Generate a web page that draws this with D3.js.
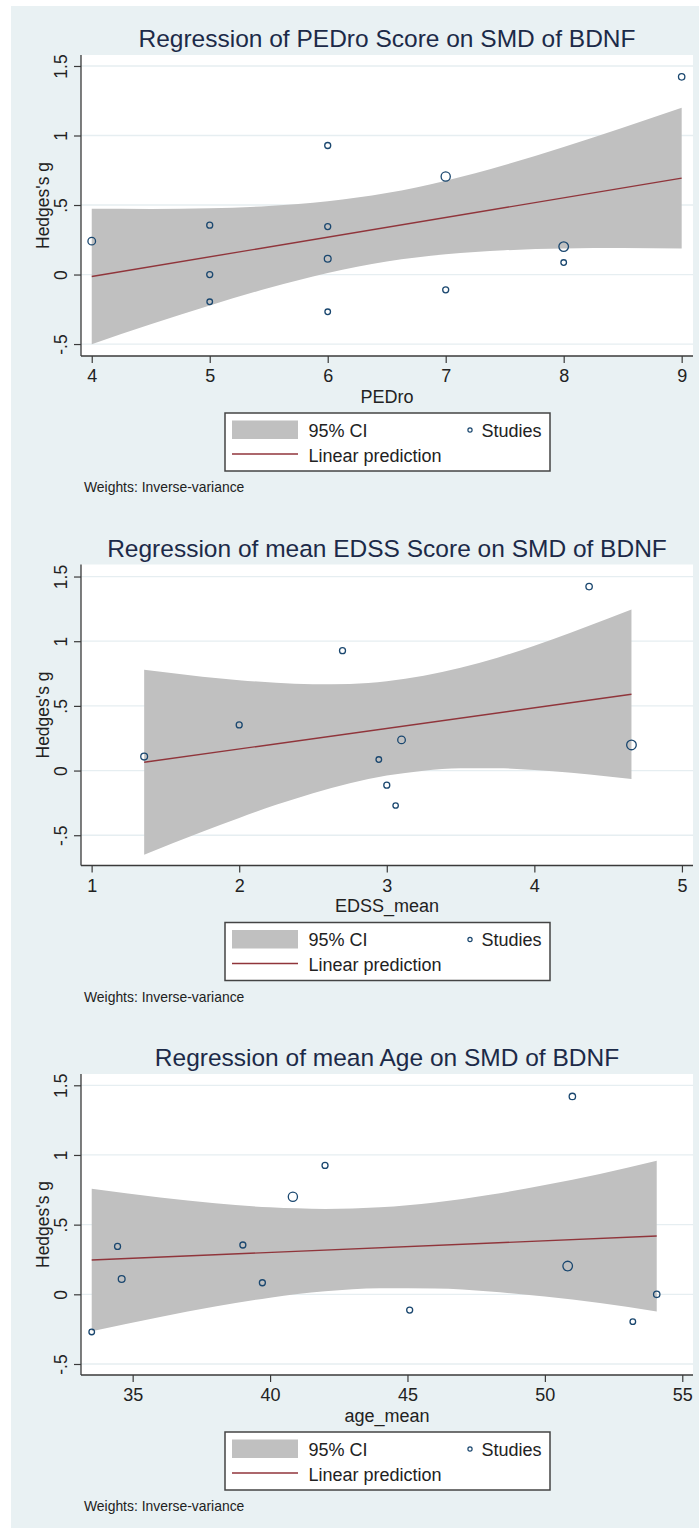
<!DOCTYPE html>
<html>
<head>
<meta charset="utf-8">
<script src="https://cdn.jsdelivr.net/npm/d3@7"></script>
<style>
  html, body { margin: 0; padding: 0; background: #ffffff; }
  svg { display: block; }
  text { font-family: "Liberation Sans", Arial, sans-serif; }
</style>
</head>
<body>
<script>
// ---------------- DATA ----------------
const yTicks = [-0.5, 0, 0.5, 1, 1.5];
const yTickLabels = ["-.5", "0", ".5", "1", "1.5"];

// Panel 1: PEDro
const pedroTitle = "Regression of PEDro Score on SMD of BDNF";
const pedroXLabel = "PEDro";
const pedroTicks = [4, 5, 6, 7, 8, 9];
const pedroX = [4, 5, 5, 5, 6, 6, 6, 6, 7, 7, 8, 8, 9];
const pedroG = [0.24, 0.355, 0.0, -0.196, 0.928, 0.345, 0.113, -0.268, 0.705, -0.11, 0.201, 0.086, 1.422];
const pedroW = [3.8, 3.0, 3.0, 2.8, 3.0, 3.0, 3.4, 2.8, 4.6, 3.0, 4.8, 2.8, 3.2];
const pedroFitX = [4, 9];
const pedroFitY = [-0.014, 0.693];
const pedroCiX  = [4, 4.5, 5, 5.5, 6, 6.5, 7, 7.5, 8, 8.5, 9];
const pedroCiLo = [-0.501, -0.358, -0.222, -0.097, 0.011, 0.093, 0.145, 0.174, 0.187, 0.190, 0.187];
const pedroCiHi = [0.473, 0.472, 0.477, 0.493, 0.527, 0.586, 0.675, 0.788, 0.917, 1.055, 1.199];

// Panel 2: EDSS
const edssTitle = "Regression of mean EDSS Score on SMD of BDNF";
const edssXLabel = "EDSS_mean";
const edssTicks = [1, 2, 3, 4, 5];
const edssX = [1.356, 2.0, 2.70, 2.946, 3.0, 3.06, 3.10, 4.371, 4.658];
const edssG = [0.108, 0.353, 0.927, 0.085, -0.113, -0.27, 0.237, 1.422, 0.198];
const edssW = [3.4, 3.0, 3.0, 2.8, 3.0, 2.7, 3.8, 3.2, 4.8];
const edssFitX = [1.356, 4.658];
const edssFitY = [0.064, 0.590];
const edssCiX  = [1.356, 1.75, 2.0, 2.25, 2.5, 2.75, 3.0, 3.25, 3.5, 3.75, 4.0, 4.25, 4.5, 4.658];
const edssCiLo = [-0.651, -0.473, -0.366, -0.265, -0.175, -0.098, -0.039, -0.001, 0.017, 0.018, 0.005, -0.017, -0.045, -0.065];
const edssCiHi = [0.779, 0.726, 0.699, 0.678, 0.667, 0.670, 0.691, 0.732, 0.794, 0.873, 0.965, 1.067, 1.175, 1.245];

// Panel 3: Age
const ageTitle = "Regression of mean Age on SMD of BDNF";
const ageXLabel = "age_mean";
const ageTicks = [35, 40, 45, 50, 55];
const ageX = [33.51, 34.45, 34.6, 39.01, 39.72, 40.83, 42.0, 45.08, 50.83, 51.0, 53.2, 54.07];
const ageG = [-0.270, 0.344, 0.110, 0.354, 0.083, 0.700, 0.925, -0.113, 0.203, 1.420, -0.196, 0.0];
const ageW = [2.8, 3.0, 3.4, 3.0, 3.0, 4.6, 3.0, 3.0, 4.8, 3.2, 2.8, 3.2];
const ageFitX = [33.51, 54.07];
const ageFitY = [0.246, 0.418];
const ageCiX  = [33.51, 36, 38, 40, 42, 44, 46, 48, 50, 52, 54.07];
const ageCiLo = [-0.265, -0.162, -0.087, -0.024, 0.022, 0.044, 0.042, 0.020, -0.016, -0.062, -0.123];
const ageCiHi = [0.757, 0.695, 0.654, 0.624, 0.613, 0.624, 0.659, 0.714, 0.784, 0.864, 0.959];

const legendLabels = ["95% CI", "Linear prediction", "Studies"];
const noteText = "Weights: Inverse-variance";
const yAxisTitle = "Hedges's g";

// ---------------- LAYOUT / STYLE ----------------
const W = 699, H = 1528;
const COL = {
  bg: "#e9f1f3", grid: "#e6eef1", ci: "#c0c0c0", fit: "#90353b",
  marker: "#1a476f", axis: "#3a3a3a", text: "#222222", title: "#1c2a48"
};
const plotL = 81, plotR = 693, plotH = 301;

const panels = [
  { title: pedroTitle, xlab: pedroXLabel, ticks: pedroTicks, xs: pedroX, gs: pedroG, ws: pedroW,
    fitX: pedroFitX, fitY: pedroFitY, ciX: pedroCiX, ciLo: pedroCiLo, ciHi: pedroCiHi,
    top: 55, xDom: [3.909, 9.096], yDom: [-0.586, 1.579] },
  { title: edssTitle, xlab: edssXLabel, ticks: edssTicks, xs: edssX, gs: edssG, ws: edssW,
    fitX: edssFitX, fitY: edssFitY, ciX: edssCiX, ciLo: edssCiLo, ciHi: edssCiHi,
    top: 564.5, xDom: [0.928, 5.075], yDom: [-0.734, 1.593] },
  { title: ageTitle, xlab: ageXLabel, ticks: ageTicks, xs: ageX, gs: ageG, ws: ageW,
    fitX: ageFitX, fitY: ageFitY, ciX: ageCiX, ciLo: ageCiLo, ciHi: ageCiHi,
    top: 1074, xDom: [33.12, 55.39], yDom: [-0.579, 1.581] }
];

const svg = d3.select("body").append("svg").attr("width", W).attr("height", H);
svg.append("rect").attr("x", 11).attr("y", 6).attr("width", W - 11).attr("height", H - 6).attr("fill", COL.bg);

panels.forEach(p => {
  const top = p.top, bottom = top + plotH;
  const x = d3.scaleLinear().domain(p.xDom).range([plotL, plotR]);
  const y = d3.scaleLinear().domain(p.yDom).range([bottom, top]);
  const g = svg.append("g");

  // plot region
  g.append("rect").attr("x", plotL).attr("y", top).attr("width", plotR - plotL).attr("height", plotH).attr("fill", "#fff");

  // gridlines
  g.selectAll(".grid").data(yTicks).join("line")
    .attr("x1", plotL).attr("x2", plotR).attr("y1", d => y(d)).attr("y2", d => y(d))
    .attr("stroke", COL.grid).attr("stroke-width", 1.3);

  // CI band
  const ci = p.ciX.map((v, i) => ({ x: v, lo: p.ciLo[i], hi: p.ciHi[i] }));
  g.append("path").datum(ci)
    .attr("d", d3.area().x(d => x(d.x)).y0(d => y(d.lo)).y1(d => y(d.hi)).curve(d3.curveMonotoneX))
    .attr("fill", COL.ci);

  // fit line
  const fit = p.fitX.map((v, i) => ({ x: v, y: p.fitY[i] }));
  g.append("path").datum(fit)
    .attr("d", d3.line().x(d => x(d.x)).y(d => y(d.y)))
    .attr("fill", "none").attr("stroke", COL.fit).attr("stroke-width", 1.4);

  // studies
  const pts = p.xs.map((v, i) => ({ x: v, y: p.gs[i], r: p.ws[i] }));
  g.selectAll(".pt").data(pts).join("circle")
    .attr("cx", d => x(d.x)).attr("cy", d => y(d.y)).attr("r", d => d.r)
    .attr("fill", "none").attr("stroke", COL.marker).attr("stroke-width", 1.3);

  // y axis
  const ya = g.append("g").attr("transform", `translate(${plotL},0)`)
    .call(d3.axisLeft(y).tickValues(yTicks).tickSize(7).tickSizeOuter(0)
      .tickFormat((d, i) => yTickLabels[i]));
  ya.select(".domain").attr("stroke", COL.axis).attr("stroke-width", 1.3)
    .attr("d", `M0,${top}V${bottom}`);
  ya.selectAll(".tick line").attr("stroke", COL.axis).attr("stroke-width", 1.2);
  ya.selectAll(".tick text")
    .attr("x", 0).attr("y", 0).attr("dy", 0)
    .attr("transform", "translate(-14,0) rotate(-90)")
    .attr("text-anchor", "middle")
    .attr("font-size", 17.5).attr("fill", COL.text);

  // x axis
  const xa = g.append("g").attr("transform", `translate(0,${bottom})`)
    .call(d3.axisBottom(x).tickValues(p.ticks).tickSize(7).tickSizeOuter(0).tickFormat(d3.format("d")));
  xa.select(".domain").attr("stroke", COL.axis).attr("stroke-width", 1.3)
    .attr("d", `M${plotL},0H${plotR}`);
  xa.selectAll(".tick line").attr("stroke", COL.axis).attr("stroke-width", 1.2);
  xa.selectAll(".tick text").attr("y", 26).attr("dy", 0)
    .attr("font-size", 18).attr("fill", COL.text);

  // titles
  g.append("text").attr("x", (plotL + plotR) / 2).attr("y", top - 8)
    .attr("text-anchor", "middle").attr("font-size", 24.5).attr("fill", COL.title).text(p.title);
  g.append("text").attr("x", (plotL + plotR) / 2).attr("y", bottom + 46.5)
    .attr("text-anchor", "middle").attr("font-size", 18).attr("fill", COL.text).text(p.xlab);
  g.append("text").attr("transform", `translate(48.5,${(top + bottom) / 2}) rotate(-90)`)
    .attr("text-anchor", "middle").attr("font-size", 17.5).attr("fill", COL.text).text(yAxisTitle);

  // legend
  const lt = bottom + 57;
  const lg = g.append("g");
  lg.append("rect").attr("x", 225).attr("y", lt).attr("width", 325).attr("height", 58)
    .attr("fill", "#fff").attr("stroke", "#444").attr("stroke-width", 1.5);
  lg.append("rect").attr("x", 232).attr("y", lt + 7.5).attr("width", 66).attr("height", 18.5).attr("fill", COL.ci);
  lg.append("line").attr("x1", 232).attr("x2", 298).attr("y1", lt + 41).attr("y2", lt + 41)
    .attr("stroke", COL.fit).attr("stroke-width", 1.4);
  lg.append("circle").attr("cx", 470).attr("cy", lt + 17).attr("r", 2.1)
    .attr("fill", "none").attr("stroke", COL.marker).attr("stroke-width", 1.2);
  lg.append("text").attr("x", 308.5).attr("y", lt + 23.7).attr("font-size", 18).attr("fill", COL.text).text(legendLabels[0]);
  lg.append("text").attr("x", 308.5).attr("y", lt + 48.7).attr("font-size", 18).attr("fill", COL.text).text(legendLabels[1]);
  lg.append("text").attr("x", 481.5).attr("y", lt + 23.7).attr("font-size", 18).attr("fill", COL.text).text(legendLabels[2]);

  // note
  g.append("text").attr("x", 84).attr("y", bottom + 136).attr("font-size", 13.9).attr("fill", COL.text).text(noteText);
});
</script>
</body>
</html>
